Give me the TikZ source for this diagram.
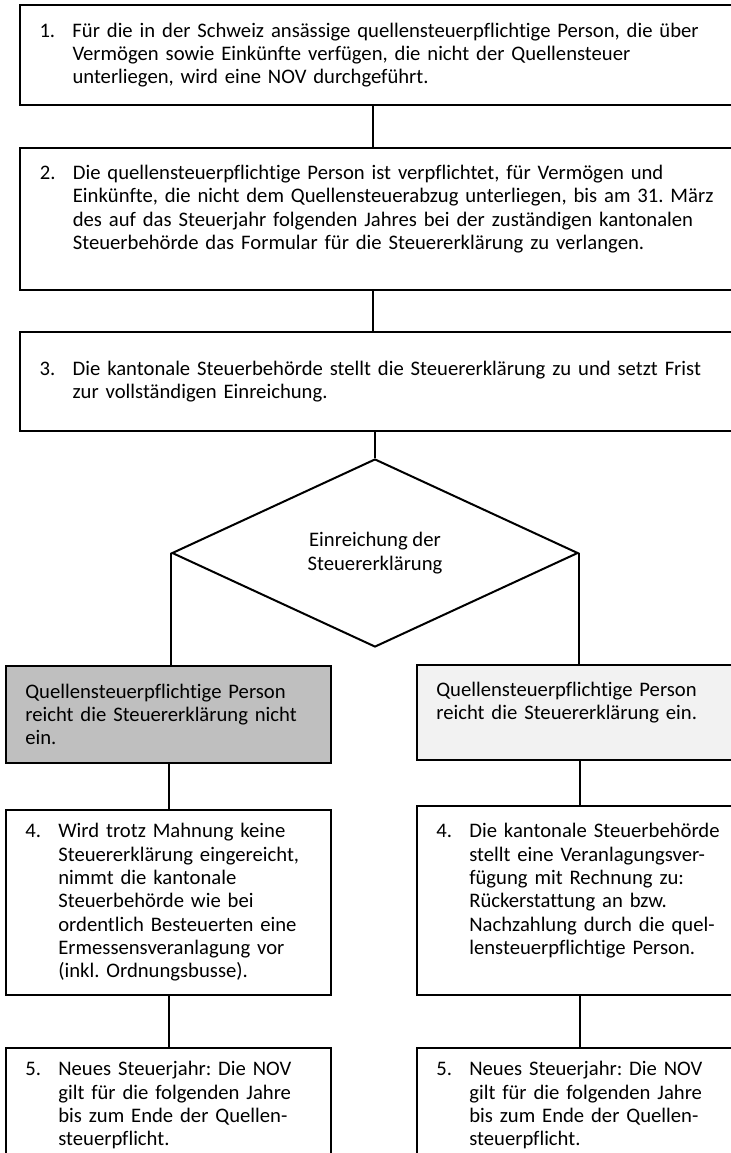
\documentclass[tikz,border=0pt]{standalone}
\usepackage{fontspec}
\setmainfont{Carlito}[Ligatures=NoCommon]
\usepackage{tikz}
\usetikzlibrary{shapes.geometric, positioning}

% number with hanging indent, lines broken by \newline
\newcommand{\numitem}[2]{\noindent\hangindent=24.75pt\hangafter=1\makebox[24.75pt][l]{#1}#2\par}
\frenchspacing

\begin{document}
\begin{tikzpicture}[x=0.75pt, y=-0.75pt,
    stepbox/.style={rectangle, draw, line width=1.5pt, anchor=north west, align=left, inner xsep=14.5pt, inner ysep=0pt, font=\fontsize{15.5}{17.5}\selectfont},
    halfbox/.style={stepbox, minimum width=243.75pt, text width=214.75pt},
    decision/.style={diamond, draw, line width=1.5pt, align=center, inner sep=0pt, minimum width=304.5pt, minimum height=141pt, font=\fontsize{15.5}{17.5}\selectfont},
    link/.style={line width=1.5pt}]

    \useasboundingbox (0,0) rectangle (731,1153);

    \node (step1) [stepbox, minimum width=539.25pt, minimum height=75pt, text width=510pt] at (19,4)
        {\numitem{1.}{Für die in der Schweiz ansässige quellensteuerpflichtige Person, die über\newline
        Vermögen sowie Einkünfte verfügen, die nicht der Quellensteuer\newline
        unterliegen, wird eine NOV durchgeführt.}};
    \node (step2) [stepbox, minimum width=540.75pt, minimum height=106.5pt, text width=511pt, below=30.75pt of step1.south west, anchor=north west]
        {\numitem{2.}{Die quellensteuerpflichtige Person ist verpflichtet, für Vermögen und\newline
        Einkünfte, die nicht dem Quellensteuerabzug unterliegen, bis am 31. März\newline
        des auf das Steuerjahr folgenden Jahres bei der zuständigen kantonalen\newline
        Steuerbehörde das Formular für die Steuererklärung zu verlangen.\newline\mbox{}}};
    \node (step3) [stepbox, minimum width=541.5pt, minimum height=74.25pt, text width=512pt, below=30pt of step2.south west, anchor=north west]
        {\numitem{3.}{Die kantonale Steuerbehörde stellt die Steuererklärung zu und setzt Frist\newline
        zur vollständigen Einreichung.}};
    \node (submit) [decision] at (375,553) {Einreichung der\\Steuererklärung};

    % the two outcomes
    \node (nosubmit) [halfbox, minimum height=72.75pt, fill={rgb,255:red,191;green,191;blue,191}] at (5,665)
        {Quellensteuerpflichtige Person\newline reicht die Steuererklärung nicht\newline ein.};
    \node (yessubmit) [halfbox, minimum height=71.25pt, fill={rgb,255:red,242;green,242;blue,242}] at (416,664)
        {Quellensteuerpflichtige Person\newline reicht die Steuererklärung ein.\newline\mbox{}};

    \node (step4_no) [halfbox, minimum height=138.75pt, below=33.75pt of nosubmit.south west, anchor=north west]
        {\numitem{4.}{Wird trotz Mahnung keine\newline Steuererklärung eingereicht,\newline
        nimmt die kantonale\newline Steuerbehörde wie bei\newline ordentlich Besteuerten eine\newline
        Ermessensveranlagung vor\newline (inkl. Ordnungsbusse).}};
    \node (step4_yes) [halfbox, minimum height=141.75pt, below=33pt of yessubmit.south west, anchor=north west]
        {\numitem{4.}{Die kantonale Steuerbehörde\newline stellt eine Veranlagungsver-\newline
        fügung mit Rechnung zu:\newline Rückerstattung an bzw.\newline Nachzahlung durch die quel-\newline
        lensteuerpflichtige Person.\newline\mbox{}}};

    \node (step5_no) [halfbox, minimum height=86pt, below=38.25pt of step4_no.south west, anchor=north west]
        {\numitem{5.}{Neues Steuerjahr: Die NOV\newline gilt für die folgenden Jahre\newline
        bis zum Ende der Quellen-\newline steuerpflicht.}};
    \node (step5_yes) [halfbox, minimum height=86pt, below=38.25pt of step4_yes.south west, anchor=north west]
        {\numitem{5.}{Neues Steuerjahr: Die NOV\newline gilt für die folgenden Jahre\newline
        bis zum Ende der Quellen-\newline steuerpflicht.}};

    % Main flow
    \coordinate (spine) at (373,0);
    \draw [link] (step1.south -| spine) -- (step2.north -| spine);
    \draw [link] (step2.south -| spine) -- (step3.north -| spine);
    \draw [link] (step3.south -| submit.north) -- (submit.north);
    \draw [link] (submit.west) -- (submit.west |- nosubmit.north);
    \draw [link] (submit.east) -- (submit.east |- yessubmit.north);
    \draw [link] (nosubmit) -- (step4_no);
    \draw [link] (yessubmit) -- (step4_yes);
    \draw [link] (step4_no) -- (step5_no);
    \draw [link] (step4_yes) -- (step5_yes);

\end{tikzpicture}
\end{document}
